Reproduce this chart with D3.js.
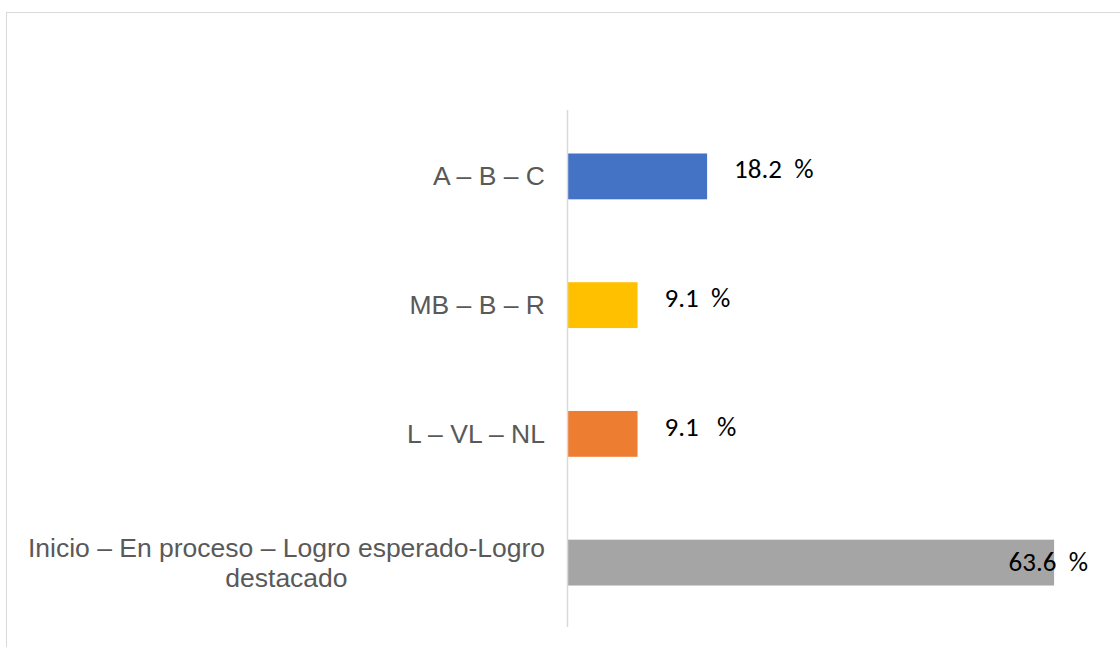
<!DOCTYPE html>
<html>
<head>
<meta charset="utf-8">
<script src="https://cdn.jsdelivr.net/npm/d3@7"></script>
<style>
  body { margin: 0; background: #fff; }
  svg { display: block; }
</style>
</head>
<body>
<svg width="1120" height="647"></svg>
<script>
const categories = ['A – B – C', 'MB – B – R', 'L – VL – NL', 'Inicio – En proceso – Logro esperado-Logro destacado'];
const values = [18.2, 9.1, 9.1, 63.6];
const valueLabels = ['18.2  %', '9.1  %', '9.1   %', '63.6  %'];
const barColors = ['#4472C4', '#FFC000', '#ED7D31', '#A5A5A5'];

function Start(){
    const svg = d3.select('svg');

    // chart frame (runs off the right and bottom like the source)
    svg.append('rect')
        .attr('x', 6.5)
        .attr('y', 12.5)
        .attr('width', 1300)
        .attr('height', 800)
        .attr('fill', 'none')
        .attr('stroke', '#d9d9d9');

    const x = d3.scaleLinear()
        .domain([0, 70])
        .range([568, 1103]);

    const y = d3.scaleBand()
        .domain(categories)
        .range([111, 628])
        .paddingInner(0.644)
        .paddingOuter(0.33);

    // bars
    svg.selectAll('.bar')
        .data(values)
        .enter().append('rect')
            .attr('class', 'bar')
            .attr('x', x(0))
            .attr('y', (d, i) => y(categories[i]))
            .attr('width', d => x(d) - x(0))
            .attr('height', y.bandwidth())
            .attr('fill', (d, i) => barColors[i]);

    // vertical axis line
    const axis = svg.append('g')
        .attr('transform', `translate(${x(0) - 0.5},0)`)
        .call(d3.axisLeft(y).tickSize(0).tickFormat(''));
    axis.select('.domain')
        .attr('d', `M0,${y.range()[0] - 1}V${y.range()[1] - 1}`)
        .attr('stroke', '#d9d9d9')
        .attr('stroke-width', 1.5);

    // category labels, wrapped and centred to the left of the axis
    const maxWidth = 530;
    const labelRight = 545;
    const lineH = 30;
    categories.forEach((c, i) => {
        const t = svg.append('text')
            .attr('fill', '#595959')
            .style('font-family', '"Liberation Sans", Arial, sans-serif')
            .style('font-size', '26.5px')
            .attr('text-anchor', 'middle');
        const words = c.split(' ');
        let lines = [];
        let line = [];
        const probe = t.append('tspan');
        words.forEach(w => {
            line.push(w);
            probe.text(line.join(' '));
            if (probe.node().getComputedTextLength() > maxWidth && line.length > 1) {
                line.pop();
                lines.push(line.join(' '));
                line = [w];
            }
        });
        lines.push(line.join(' '));
        probe.remove();
        const widths = lines.map(l => { const p = t.append('tspan').text(l); const w = p.node().getComputedTextLength(); p.remove(); return w; });
        const cx = labelRight - d3.max(widths) / 2;
        const mid = y(c) + y.bandwidth() / 2;
        const firstBase = mid + 9 - (lines.length - 1) * lineH / 2;
        lines.forEach((l, k) => {
            t.append('tspan')
                .attr('x', cx)
                .attr('y', firstBase + k * lineH)
                .text(l);
        });
    });

    // value labels
    const plotRight = 1088;
    svg.selectAll('.val')
        .data(values)
        .enter().append('text')
            .attr('class', 'val')
            .attr('fill', '#000')
            .style('font-family', 'Carlito, Calibri, Lato, sans-serif')
            .style('font-size', '27px')
            .style('white-space', 'pre')
            .attr('xml:space', 'preserve')
            .text((d, i) => valueLabels[i])
            .each(function(d, i){
                const w = this.getComputedTextLength();
                const mid = y(categories[i]) + y.bandwidth() / 2;
                let lx = x(d) + 27;
                let ly = mid + 2;
                if (lx + w > plotRight) {
                    lx = plotRight - w;
                    ly = mid + 8;
                }
                d3.select(this).attr('x', lx).attr('y', ly);
            });
}
Start();
</script>
</body>
</html>
